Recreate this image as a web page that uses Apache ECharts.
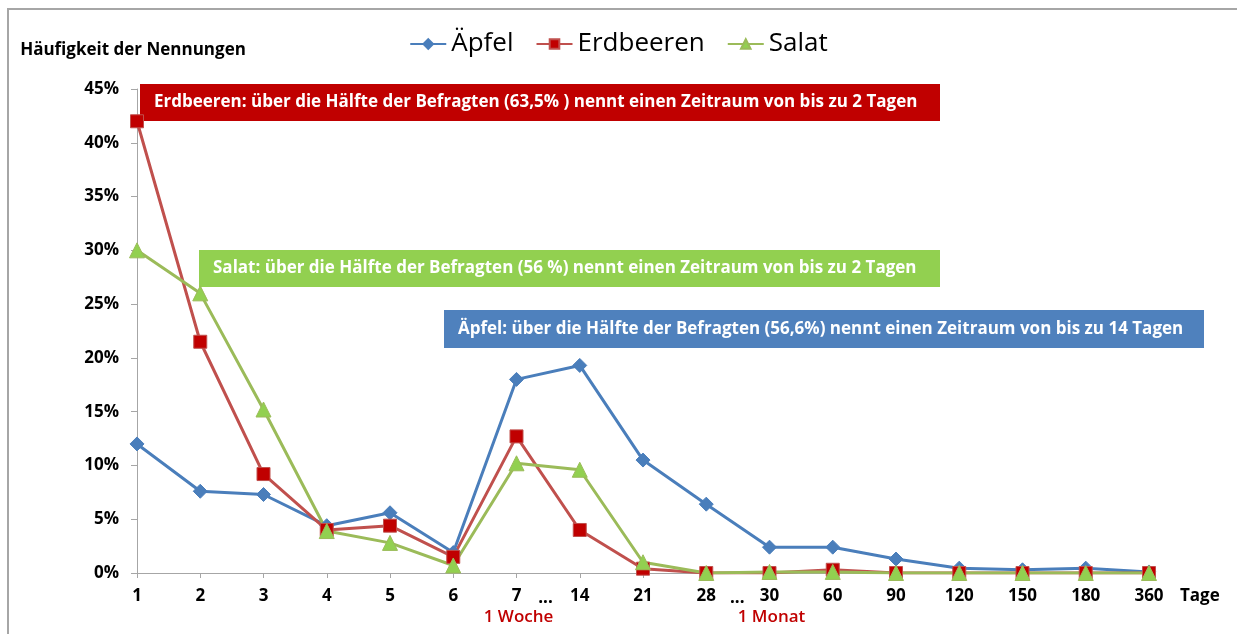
<!DOCTYPE html>
<html>
<head>
<meta charset="utf-8">
<script src="https://cdn.jsdelivr.net/npm/echarts@6/dist/echarts.min.js"></script>
<style>
  html, body { margin: 0; padding: 0; background: #fff; }
  #chart { width: 1237px; height: 634px; }
</style>
</head>
<body>
<div id="chart"></div>
<script>
// Kategorien (Tage)
const tage = ["1", "2", "3", "4", "5", "6", "7", "14", "21", "28", "30", "60", "90", "120", "150", "180", "360"];
// Häufigkeit der Nennungen in %
const aepfel = [12.0, 7.6, 7.3, 4.4, 5.6, 1.9, 18.0, 19.3, 10.5, 6.4, 2.4, 2.4, 1.3, 0.45, 0.3, 0.45, 0.1];
const erdbeeren = [42.0, 21.5, 9.2, 4.0, 4.4, 1.5, 12.7, 4.0, 0.4, 0, 0, 0.3, 0, 0, 0, 0, 0];
const salat = [30.0, 26.0, 15.2, 3.9, 2.8, 0.7, 10.2, 9.6, 1.0, 0, 0.1, 0.1, 0, 0, 0, 0, 0];

const hinweise = [
  "Erdbeeren: über die Hälfte der Befragten (63,5% ) nennt einen Zeitraum von bis zu 2 Tagen",
  "Salat: über die Hälfte der Befragten (56 %) nennt einen Zeitraum von bis zu 2 Tagen",
  "Äpfel: über die Hälfte der Befragten (56,6%) nennt einen Zeitraum von bis zu 14 Tagen"
];

const font = "'Open Sans', 'Noto Sans', sans-serif";

function lineSeries(name, data, lineColor, fill, symbol, size) {
  return {
    name: name,
    type: "line",
    data: data,
    symbol: symbol,
    symbolSize: size,
    lineStyle: { color: lineColor, width: 3 },
    itemStyle: { color: fill, borderColor: lineColor, borderWidth: 1 },
    emphasis: { disabled: true },
    animation: false
  };
}

let chart = echarts.init(document.getElementById("chart"));

let option = {
  animation: false,
  textStyle: { fontFamily: font },
  legend: {
    top: 26,
    left: "center",
    itemWidth: 36,
    itemHeight: 12,
    itemGap: 22,
    textStyle: { fontSize: 26, color: "#000", fontFamily: font },
    data: ["Äpfel", "Erdbeeren", "Salat"]
  },
  grid: {
    left: 137,
    right: 88,
    top: 89,
    bottom: 61
  },
  xAxis: {
    type: "category",
    boundaryGap: false,
    data: tage,
    name: "Tage",
    nameLocation: "end",
    nameGap: 31,
    nameTextStyle: {
      fontSize: 17,
      fontWeight: "bold",
      color: "#000",
      verticalAlign: "top",
      padding: [15, 0, 0, 0]
    },
    axisLine: { lineStyle: { color: "#a6a6a6", width: 1 } },
    axisTick: { show: true, length: 5, lineStyle: { color: "#a6a6a6" } },
    axisLabel: { fontSize: 17, fontWeight: "bold", color: "#000", margin: 15 }
  },
  yAxis: {
    type: "value",
    min: 0,
    max: 45,
    interval: 5,
    name: "Häufigkeit der Nennungen",
    nameLocation: "end",
    nameGap: 30,
    nameTextStyle: { fontSize: 17, fontWeight: "bold", color: "#000", align: "center", padding: [0, 8, 0, 0] },
    axisLine: { show: true, lineStyle: { color: "#a6a6a6", width: 1 } },
    axisTick: { show: true, length: 6, lineStyle: { color: "#a6a6a6" } },
    axisLabel: { fontSize: 17, fontWeight: "bold", color: "#000", margin: 18, formatter: "{value}%" },
    splitLine: { show: false }
  },
  series: [
    lineSeries("Äpfel", aepfel, "#4a7ebb", "#4a7ebb", "diamond", 14),
    lineSeries("Erdbeeren", erdbeeren, "#c0504d", "#c00000", "rect", 13),
    lineSeries("Salat", salat, "#9bbb59", "#92d050", "triangle", 15)
  ]
};

chart.setOption(option);

// Kästen + Zusatzbeschriftung
function box(text, color, x, y, w, h) {
  return {
    type: "group",
    z: 1,
    children: [
      { type: "rect", z: 1, shape: { x: x, y: y, width: w, height: h }, style: { fill: color } },
      {
        type: "text", z: 1, x: x + 14, y: y + h / 2,
        style: { text: text, fill: "#fff", font: "bold 17px " + font, verticalAlign: "middle" }
      }
    ]
  };
}

let px = (i) => chart.convertToPixel({ xAxisIndex: 0 }, tage[i]);
let y0 = chart.convertToPixel({ yAxisIndex: 0 }, 0);

chart.setOption({
  graphic: {
    elements: [
      { type: "rect", z: 0, shape: { x: 8, y: 9, width: 1260, height: 660 }, style: { fill: null, stroke: "#a6a6a6", lineWidth: 2 } },
      box(hinweise[0], "#c00000", 140, 84, 800, 37),
      box(hinweise[1], "#92d050", 199, 250, 741, 37),
      box(hinweise[2], "#4f81bd", 444, 310, 760, 38),
      { type: "text", x: px(6) + 29, y: y0 + 17, style: { text: "...", fill: "#000", font: "bold 17px " + font, align: "center" } },
      { type: "text", x: px(9) + 31, y: y0 + 17, style: { text: "...", fill: "#000", font: "bold 17px " + font, align: "center" } },
      { type: "text", x: px(6) + 2, y: y0 + 36, style: { text: "1 Woche", fill: "#c00000", font: "600 17px " + font, align: "center" } },
      { type: "text", x: px(10) + 2, y: y0 + 36, style: { text: "1 Monat", fill: "#c00000", font: "600 17px " + font, align: "center" } }
    ]
  }
});
</script>
</body>
</html>
